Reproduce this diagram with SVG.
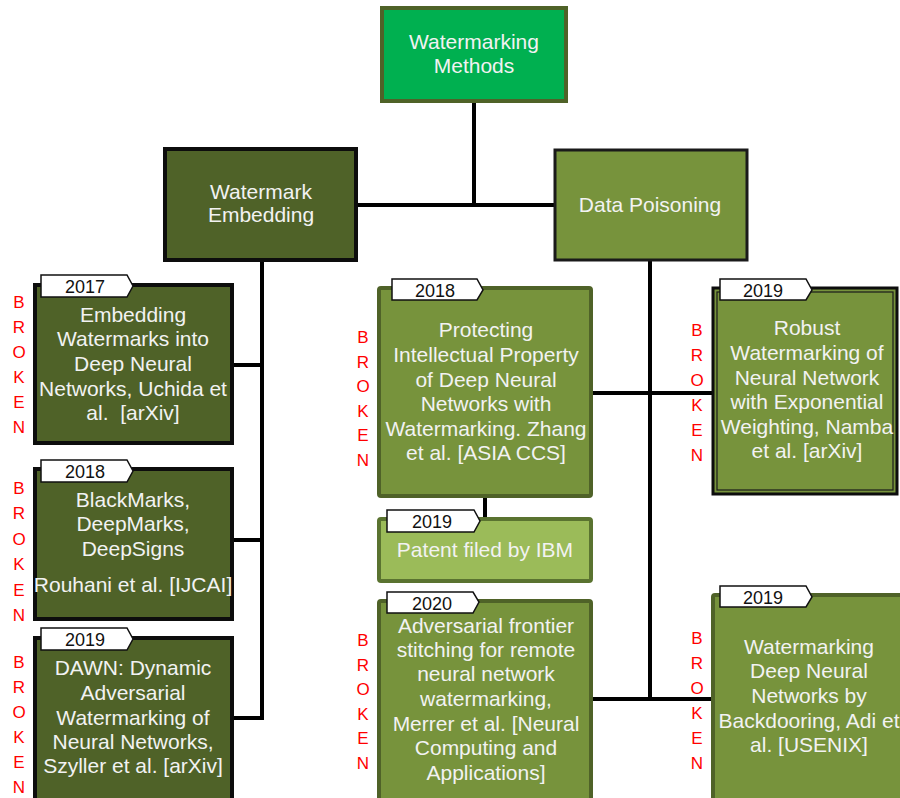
<svg xmlns="http://www.w3.org/2000/svg" width="900" height="798" viewBox="0 0 900 798">
  <style>
    .lbl { font-family: "Liberation Sans", Arial, sans-serif; font-size: 21px; fill: #f2f2f2; text-anchor: middle; white-space: pre; }
    .yr { font-family: "Liberation Sans", Arial, sans-serif; font-size: 18px; fill: #111; text-anchor: middle; }
    .brk { font-family: "Liberation Sans", Arial, sans-serif; font-size: 17px; fill: #ff0000; text-anchor: middle; }
    .tag { fill: #ffffff; stroke: #111; stroke-width: 1.5; }
    .wire { stroke: #000; stroke-width: 4; fill: none; }
    .dark { fill: #4f6228; stroke: #0d0d0d; stroke-width: 4; }
    .mid { fill: #77933c; stroke: #4f6228; stroke-width: 4; }
  </style>
  <rect width="900" height="798" fill="#ffffff"/>

  <!-- connectors -->
  <g id="connectors">
    <path class="wire" d="M474 102 V205 M357 205 H554"/>
    <path class="wire" d="M262 260 V718 M233 365 H264 M233 540 H264 M233 718 H264"/>
    <path class="wire" d="M650 260 V699 M592 393 H712 M592 699 H712"/>
    <path class="wire" d="M485 497 V518"/>
  </g>

  <!-- root -->
  <g id="root">
    <rect x="382" y="8" width="184" height="93" fill="#00b050" stroke="#4f6228" stroke-width="4"/>
    <text class="lbl" x="474" y="49">Watermarking</text>
    <text class="lbl" x="474" y="73">Methods</text>
  </g>

  <g id="watermark-embedding">
    <rect class="dark" x="165" y="149" width="191" height="111"/>
    <text class="lbl" x="261" y="199">Watermark</text>
    <text class="lbl" x="261" y="222">Embedding</text>
  </g>

  <g id="data-poisoning">
    <rect x="555" y="150" width="192" height="110" fill="#77933c" stroke="#1a1a1a" stroke-width="3"/>
    <text class="lbl" x="650" y="212">Data Poisoning</text>
  </g>

  <!-- embedding papers -->
  <g id="uchida">
    <rect class="dark" x="35" y="285" width="197" height="158"/>
    <path class="tag" d="M41 275 H127 L133 286 L127 297 H41 Z"/>
    <text class="yr" x="85" y="293">2017</text>
    <text class="lbl" x="133" y="322">Embedding</text>
    <text class="lbl" x="133" y="346">Watermarks into</text>
    <text class="lbl" x="133" y="371">Deep Neural</text>
    <text class="lbl" x="133" y="396">Networks, Uchida et</text>
    <text class="lbl" x="133" y="420" xml:space="preserve">al.  [arXiv]</text>
    <text class="brk" x="19" y="308">B<tspan x="19" dy="25">R</tspan><tspan x="19" dy="25">O</tspan><tspan x="19" dy="25">K</tspan><tspan x="19" dy="25">E</tspan><tspan x="19" dy="25">N</tspan></text>
  </g>

  <g id="rouhani">
    <rect class="dark" x="35" y="469" width="197" height="150"/>
    <path class="tag" d="M41 460 H127 L133 471 L127 482 H41 Z"/>
    <text class="yr" x="85" y="478">2018</text>
    <text class="lbl" x="133" y="507">BlackMarks,</text>
    <text class="lbl" x="133" y="531">DeepMarks,</text>
    <text class="lbl" x="133" y="556">DeepSigns</text>
    <text class="lbl" x="133" y="592">Rouhani et al. [IJCAI]</text>
    <text class="brk" x="19" y="494">B<tspan x="19" dy="25.4">R</tspan><tspan x="19" dy="25.4">O</tspan><tspan x="19" dy="25.4">K</tspan><tspan x="19" dy="25.4">E</tspan><tspan x="19" dy="25.4">N</tspan></text>
  </g>

  <g id="szyller">
    <rect class="dark" x="35" y="638" width="197" height="170"/>
    <path class="tag" d="M41 628 H127 L133 639 L127 650 H41 Z"/>
    <text class="yr" x="85" y="646">2019</text>
    <text class="lbl" x="133" y="675">DAWN: Dynamic</text>
    <text class="lbl" x="133" y="700">Adversarial</text>
    <text class="lbl" x="133" y="725">Watermarking of</text>
    <text class="lbl" x="133" y="749">Neural Networks,</text>
    <text class="lbl" x="133" y="773">Szyller et al. [arXiv]</text>
    <text class="brk" x="19" y="668">B<tspan x="19" dy="25">R</tspan><tspan x="19" dy="25">O</tspan><tspan x="19" dy="25">K</tspan><tspan x="19" dy="25">E</tspan><tspan x="19" dy="25">N</tspan></text>
  </g>

  <!-- poisoning papers -->
  <g id="zhang">
    <rect class="mid" x="379" y="288" width="212" height="208" rx="2"/>
    <path class="tag" d="M392 279 H477 L483 290 L477 300 H392 Z"/>
    <text class="yr" x="435" y="297">2018</text>
    <text class="lbl" x="486" y="337">Protecting</text>
    <text class="lbl" x="486" y="362">Intellectual Property</text>
    <text class="lbl" x="486" y="387">of Deep Neural</text>
    <text class="lbl" x="486" y="411">Networks with</text>
    <text class="lbl" x="486" y="436">Watermarking. Zhang</text>
    <text class="lbl" x="486" y="460">et al. [ASIA CCS]</text>
    <text class="brk" x="363" y="343">B<tspan x="363" dy="24.6">R</tspan><tspan x="363" dy="24.6">O</tspan><tspan x="363" dy="24.6">K</tspan><tspan x="363" dy="24.6">E</tspan><tspan x="363" dy="24.6">N</tspan></text>
  </g>

  <g id="ibm-patent">
    <rect x="379" y="519" width="212" height="62" rx="2" fill="#9bbb59" stroke="#5a7330" stroke-width="4"/>
    <path class="tag" d="M387 510 H474 L480 521 L474 532 H387 Z"/>
    <text class="yr" x="432" y="528">2019</text>
    <text class="lbl" x="485" y="557">Patent filed by IBM</text>
  </g>

  <g id="merrer">
    <rect class="mid" x="379" y="601" width="212" height="210" rx="2"/>
    <path class="tag" d="M387 592 H473 L479 602 L473 613 H387 Z"/>
    <text class="yr" x="432" y="610">2020</text>
    <text class="lbl" x="486" y="633">Adversarial frontier</text>
    <text class="lbl" x="486" y="657">stitching for remote</text>
    <text class="lbl" x="486" y="681">neural network</text>
    <text class="lbl" x="486" y="706">watermarking,</text>
    <text class="lbl" x="486" y="731">Merrer et al. [Neural</text>
    <text class="lbl" x="486" y="755">Computing and</text>
    <text class="lbl" x="486" y="780">Applications]</text>
    <text class="brk" x="363" y="646">B<tspan x="363" dy="24.6">R</tspan><tspan x="363" dy="24.6">O</tspan><tspan x="363" dy="24.6">K</tspan><tspan x="363" dy="24.6">E</tspan><tspan x="363" dy="24.6">N</tspan></text>
  </g>

  <g id="namba">
    <rect x="713" y="288" width="184" height="206" fill="#77933c" stroke="#0d0d0d" stroke-width="3"/>
    <rect x="717" y="292" width="176" height="198" fill="none" stroke="#1a1a1a" stroke-width="1.2"/>
    <path class="tag" d="M720 279 H806 L812 290 L806 300 H720 Z"/>
    <text class="yr" x="763" y="297">2019</text>
    <text class="lbl" x="807" y="335">Robust</text>
    <text class="lbl" x="807" y="360">Watermarking of</text>
    <text class="lbl" x="807" y="385">Neural Network</text>
    <text class="lbl" x="807" y="409">with Exponential</text>
    <text class="lbl" x="807" y="434">Weighting, Namba</text>
    <text class="lbl" x="807" y="458">et al. [arXiv]</text>
    <text class="brk" x="697" y="336">B<tspan x="697" dy="25">R</tspan><tspan x="697" dy="25">O</tspan><tspan x="697" dy="25">K</tspan><tspan x="697" dy="25">E</tspan><tspan x="697" dy="25">N</tspan></text>
  </g>

  <g id="adi">
    <rect class="mid" x="713" y="595" width="200" height="215" rx="2"/>
    <path class="tag" d="M720 586 H806 L812 597 L806 607 H720 Z"/>
    <text class="yr" x="763" y="604">2019</text>
    <text class="lbl" x="809" y="654">Watermarking</text>
    <text class="lbl" x="809" y="678">Deep Neural</text>
    <text class="lbl" x="809" y="703">Networks by</text>
    <text class="lbl" x="809" y="728">Backdooring, Adi et</text>
    <text class="lbl" x="809" y="752">al. [USENIX]</text>
    <text class="brk" x="697" y="644">B<tspan x="697" dy="25">R</tspan><tspan x="697" dy="25">O</tspan><tspan x="697" dy="25">K</tspan><tspan x="697" dy="25">E</tspan><tspan x="697" dy="25">N</tspan></text>
  </g>
</svg>
